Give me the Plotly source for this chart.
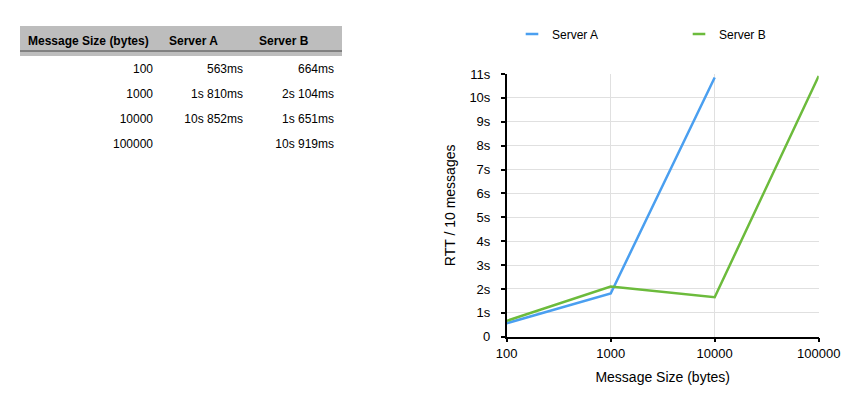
import plotly.graph_objects as go

sizes = [100, 1000, 10000, 100000]
server_a = [0.563, 1.810, 10.852]
server_b = [0.664, 2.104, 1.651, 10.919]
size_labels = ["100", "1000", "10000", "100000"]
a_labels = ["563ms", "1s 810ms", "10s 852ms", ""]
b_labels = ["664ms", "2s 104ms", "1s 651ms", "10s 919ms"]
header = ["Message Size (bytes)", "Server A", "Server B"]
y_ticks = list(range(0, 12))
y_ticktext = ["0"] + [f"{v}s" for v in range(1, 12)]

W, H = 856, 410
BLUE = "#4A9FF0"
GREEN = "#6CBB3C"
FONT = "Liberation Sans, Arial, Helvetica, sans-serif"

fig = go.Figure()

# table
fig.add_trace(go.Table(
    domain=dict(x=[20 / W, 342 / W], y=[0, 1 - 26 / H]),
    columnwidth=[141, 90, 91],
    header=dict(
        values=[f"<b>{h}</b>" for h in header],
        fill_color="#BDBDBD",
        line=dict(color="#BDBDBD", width=0),
        align="left",
        height=24,
        font=dict(family=FONT, size=12, color="#000"),
    ),
    cells=dict(
        values=[size_labels, a_labels, b_labels],
        fill_color="white",
        line=dict(color="white", width=0),
        align="right",
        height=25,
        font=dict(family=FONT, size=12, color="#000"),
    ),
))

fig.add_trace(go.Scatter(x=sizes[:len(server_a)], y=server_a, mode="lines",
                         line=dict(color=BLUE, width=2.5), name="Server A",
                         showlegend=False, legendgroup="a"))
fig.add_trace(go.Scatter(x=sizes, y=server_b, mode="lines",
                         line=dict(color=GREEN, width=2.5), name="Server B",
                         showlegend=False, legendgroup="b"))
# legend entries with short line symbols
for name, col, grp in [("Server A", BLUE, "a"), ("Server B", GREEN, "b")]:
    fig.add_trace(go.Scatter(x=[None], y=[None], mode="markers", name=name,
                             legendgroup=grp,
                             marker=dict(symbol="line-ew-open", size=9,
                                         color=col,
                                         line=dict(color=col, width=2.5))))

x0, x1 = 506.7 / W, 818.7 / W
y0, y1 = (H - 336.7) / H, (H - 74) / H

axis_common = dict(showline=True, linecolor="#000", linewidth=1.5,
                   tickcolor="#000", tickwidth=1.5, zeroline=False,
                   automargin=False)

fig.update_layout(
    width=W, height=H,
    margin=dict(l=0, r=0, t=0, b=0, autoexpand=False),
    paper_bgcolor="white", plot_bgcolor="white",
    font=dict(family=FONT, size=12, color="#000"),
    showlegend=True,
    legend=dict(orientation="h", x=512 / W, y=1 - 34 / H, xanchor="left",
                yanchor="middle", entrywidth=122, entrywidthmode="pixels",
                font=dict(size=12, family=FONT), bgcolor="rgba(0,0,0,0)"),
    xaxis=dict(domain=[x0, x1], type="log", range=[2, 5],
               tickvals=sizes, ticktext=size_labels,
               ticks="outside", ticklen=4,
               tickfont=dict(size=13),
               showgrid=True, gridcolor="#E0E0E0", gridwidth=1,
               title=dict(text="Message Size (bytes)", standoff=12,
                          font=dict(size=14, family=FONT)),
               **axis_common),
    yaxis=dict(domain=[y0, y1], range=[0, 11],
               tickvals=y_ticks, ticktext=y_ticktext,
               ticks="outside", ticklen=4, ticklabelstandoff=8,
               tickfont=dict(size=13),
               showgrid=True, gridcolor="#E0E0E0", gridwidth=1,
               title=dict(text="RTT / 10 messages", standoff=10,
                          font=dict(size=14, family=FONT)),
               **axis_common),
    # inner halves of the crossing tick marks
    xaxis2=dict(overlaying="x", anchor="y", domain=[x0, x1], type="log",
                range=[2, 5], tickvals=sizes, ticks="inside", ticklen=3,
                showticklabels=False, showgrid=False, **axis_common),
    yaxis2=dict(overlaying="y", anchor="x", domain=[y0, y1], range=[0, 11],
                tickvals=y_ticks, ticks="inside", ticklen=3,
                showticklabels=False, showgrid=False, **axis_common),
    shapes=[dict(type="line", xref="paper", yref="paper",
                 x0=20 / W, x1=342 / W, y0=1 - 51 / H, y1=1 - 51 / H,
                 line=dict(color="#444", width=1))],
)

fig.write_html("out.html")
